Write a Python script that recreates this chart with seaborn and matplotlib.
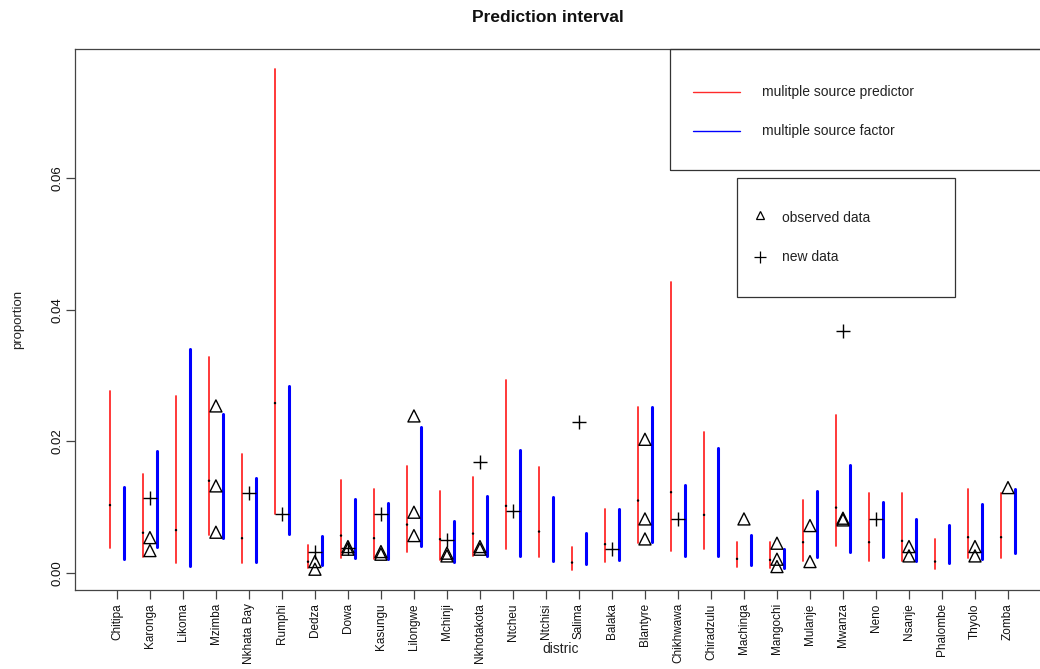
import numpy as np
import pandas as pd
import matplotlib
matplotlib.use("Agg")
import matplotlib.pyplot as plt
import seaborn as sns
from matplotlib.lines import Line2D
from matplotlib.patches import Rectangle

# ---------------- data ----------------
districts = ["Chitipa", "Karonga", "Likoma", "Mzimba", "Nkhata Bay", "Rumphi", "Dedza",
             "Dowa", "Kasungu", "Lilongwe", "Mchinji", "Nkhotakota", "Ntcheu", "Ntchisi",
             "Salima", "Balaka", "Blantyre", "Chikhwawa", "Chiradzulu", "Machinga",
             "Mangochi", "Mulanje", "Mwanza", "Neno", "Nsanje", "Phalombe", "Thyolo", "Zomba"]

# multiple source predictor (red) interval
msp_low = [0.00375, 0.00238, 0.00147, 0.00582, 0.00147, 0.00896, 0.00070, 0.00223,
           0.00208, 0.00319, 0.00197, 0.00258, 0.00365, 0.00248, 0.00046, 0.00172,
           0.00460, 0.00334, 0.00360, 0.00096, 0.00070, 0.00187, 0.00415, 0.00187,
           0.00187, 0.00056, 0.00232, 0.00232]
msp_high = [0.0277, 0.01504, 0.0269, 0.0328, 0.0181, 0.0766, 0.00425, 0.01413,
            0.01271, 0.01625, 0.01246, 0.01454, 0.02932, 0.0161, 0.0040, 0.00972,
            0.02527, 0.0442, 0.02137, 0.00475, 0.00466, 0.01109, 0.0240, 0.0122,
            0.0122, 0.00521, 0.01271, 0.01211]
msp_mid = [0.0103, 0.0061, 0.0065, 0.0140, 0.00527, 0.0258, 0.0017, 0.00567,
           0.00527, 0.00734, 0.00512, 0.00597, 0.01018, 0.00628, 0.00157, 0.00436,
           0.01099, 0.01226, 0.00881, 0.00213, 0.00197, 0.00466, 0.00992, 0.00466,
           0.00486, 0.00172, 0.00542, 0.00542]

# multiple source factor (blue) interval
msf_low = [0.00213, 0.0039, 0.0011, 0.00527, 0.00172, 0.00588, 0.0012, 0.00223,
           0.00208, 0.00415, 0.00163, 0.00263, 0.00263, 0.00182, 0.00132, 0.00197,
           0.00471, 0.00263, 0.00263, 0.00122, 0.0007, 0.00238, 0.00314, 0.00238,
           0.00187, 0.00147, 0.00213, 0.0030]
msf_high = [0.0130, 0.01858, 0.0340, 0.02415, 0.01438, 0.02845, 0.00562, 0.01124,
            0.01059, 0.02213, 0.00794, 0.01174, 0.01868, 0.0115, 0.00612, 0.00972,
            0.02527, 0.01337, 0.01894, 0.00577, 0.00365, 0.01246, 0.01641, 0.01074,
            0.00825, 0.00725, 0.01044, 0.01271]

# observed data (triangles)
observed = [[], [0.00536, 0.00339], [], [0.02537, 0.01322, 0.00618], [], [],
            [0.00172, 0.00056], [0.0040, 0.0036], [0.00324, 0.00284],
            [0.02385, 0.00922, 0.00567], [0.0030, 0.00258], [0.0040, 0.0036],
            [], [], [], [], [0.0203, 0.0082, 0.00516], [], [], [0.0082],
            [0.00451, 0.00208, 0.00096], [0.00719, 0.00172], [0.00831, 0.00805],
            [], [0.0040, 0.00258], [], [0.0040, 0.00258], [0.01296]]

# new data (plus)
new_data = [None, 0.01144, None, None, 0.0122, 0.00896, 0.00324, 0.0038, 0.00896,
            None, 0.00501, 0.01691, 0.00947, None, 0.0230, 0.00365, None, 0.00825,
            None, None, None, None, 0.03676, 0.00825, None, None, None, None]

y_ticks = [0.00, 0.02, 0.04, 0.06]
y_tick_labels = ["0.00", "0.02", "0.04", "0.06"]

# ---------------- frames ----------------
pos = np.arange(len(districts))
off = 0.21

rows = []
for i, d in enumerate(districts):
    rows.append(dict(x=pos[i] - off, value=msp_low[i], unit=f"r{i}", src="msp"))
    rows.append(dict(x=pos[i] - off, value=msp_high[i], unit=f"r{i}", src="msp"))
    rows.append(dict(x=pos[i] + off, value=msf_low[i], unit=f"b{i}", src="msf"))
    rows.append(dict(x=pos[i] + off, value=msf_high[i], unit=f"b{i}", src="msf"))
ints = pd.DataFrame(rows)

obs_df = pd.DataFrame([dict(x=pos[i], value=v) for i, vs in enumerate(observed) for v in vs])
new_df = pd.DataFrame([dict(x=pos[i], value=v) for i, v in enumerate(new_data) if v is not None])
mid_df = pd.DataFrame(dict(x=pos - off, value=msp_mid))

# ---------------- plot ----------------
sns.set_style("white")
plt.rcParams["font.family"] = ["Liberation Sans", "DejaVu Sans"]

W, H = 1040, 669
fig = plt.figure(figsize=(W / 100, H / 100), dpi=100)
L, R, T, B = 75, 1040, 49, 590
ax = fig.add_axes([L / W, 1 - B / H, (R - L) / W, (B - T) / H])

sns.lineplot(data=ints[ints.src == "msp"], x="x", y="value", units="unit", estimator=None,
             sort=False, color="#ff2a2a", linewidth=1.3, ax=ax, legend=False)
sns.lineplot(data=ints[ints.src == "msf"], x="x", y="value", units="unit", estimator=None,
             sort=False, color="#0000ff", linewidth=2.2, ax=ax, legend=False)
sns.scatterplot(data=mid_df, x="x", y="value", marker="o", s=3, color="black",
                edgecolor="none", ax=ax, legend=False, zorder=3)
sns.scatterplot(data=obs_df, x="x", y="value", marker="^", s=75, facecolor="none",
                edgecolor="black", linewidth=1.0, ax=ax, legend=False, zorder=4)
sns.scatterplot(data=new_df, x="x", y="value", marker="+", s=115, color="black",
                linewidth=1.0, ax=ax, legend=False, zorder=4)

ax.set_xlim(-1.27, 27.97)
ax.set_ylim(-0.0026, 0.0796)
ax.set_xticks(pos)
ax.set_xticklabels(districts, rotation=90, fontsize=8.5, va="top", ha="center")
ax.set_yticks(y_ticks)
ax.set_yticklabels(y_tick_labels, rotation=90, va="center", fontsize=9.5)
ax.tick_params(axis="both", direction="out", length=6.5, width=0.9, color="#444444",
               labelcolor="#111111", bottom=True, left=True)
ax.tick_params(axis="x", pad=3)
ax.tick_params(axis="y", pad=2)
for s in ["left", "bottom", "top"]:
    ax.spines[s].set_color("#444444")
    ax.spines[s].set_linewidth(0.9)
ax.spines["right"].set_visible(False)

ax.set_xlabel("distric", fontsize=10, color="#222222")
ax.xaxis.set_label_coords(0.503, -0.096)
ax.set_ylabel("proportion", fontsize=9.5, color="#222222")
ax.yaxis.set_label_coords(-0.053, 0.5)

fig.text(548 / W, 1 - 17 / H, "Prediction interval", ha="center", va="center",
         fontsize=12.5, fontweight="bold", color="#111111")

def fx(px):
    return px / W

def fy(py):
    return 1 - py / H

# legend box 1
fig.add_artist(Rectangle((fx(670), fy(170)), fx(1045) - fx(670), fy(49) - fy(170),
                         transform=fig.transFigure, fill=False, edgecolor="#333333",
                         linewidth=0.9))
fig.add_artist(Line2D([fx(693), fx(740)], [fy(92), fy(92)], color="#ff2a2a",
                      linewidth=1.0, transform=fig.transFigure))
fig.add_artist(Line2D([fx(693), fx(740)], [fy(131), fy(131)], color="#0000ff",
                      linewidth=1.0, transform=fig.transFigure))
fig.text(fx(762), fy(92), "mulitple source predictor", va="center", ha="left",
         fontsize=10, color="#222222")
fig.text(fx(762), fy(131), "multiple source factor", va="center", ha="left",
         fontsize=10, color="#222222")

# legend box 2
fig.add_artist(Rectangle((fx(737), fy(297)), fx(955) - fx(737), fy(178) - fy(297),
                         transform=fig.transFigure, fill=False, edgecolor="#333333",
                         linewidth=0.9))
fig.add_artist(Line2D([fx(760)], [fy(215)], marker="^", markersize=6, markerfacecolor="none",
                      markeredgecolor="black", markeredgewidth=0.9, linestyle="none",
                      transform=fig.transFigure))
fig.add_artist(Line2D([fx(760)], [fy(257)], marker="+", markersize=9,
                      markeredgecolor="black", markeredgewidth=0.9, linestyle="none",
                      transform=fig.transFigure))
fig.text(fx(782), fy(218), "observed data", va="center", ha="left",
         fontsize=10, color="#222222")
fig.text(fx(782), fy(257), "new data", va="center", ha="left",
         fontsize=10, color="#222222")

fig.savefig("out.png", dpi=100)
